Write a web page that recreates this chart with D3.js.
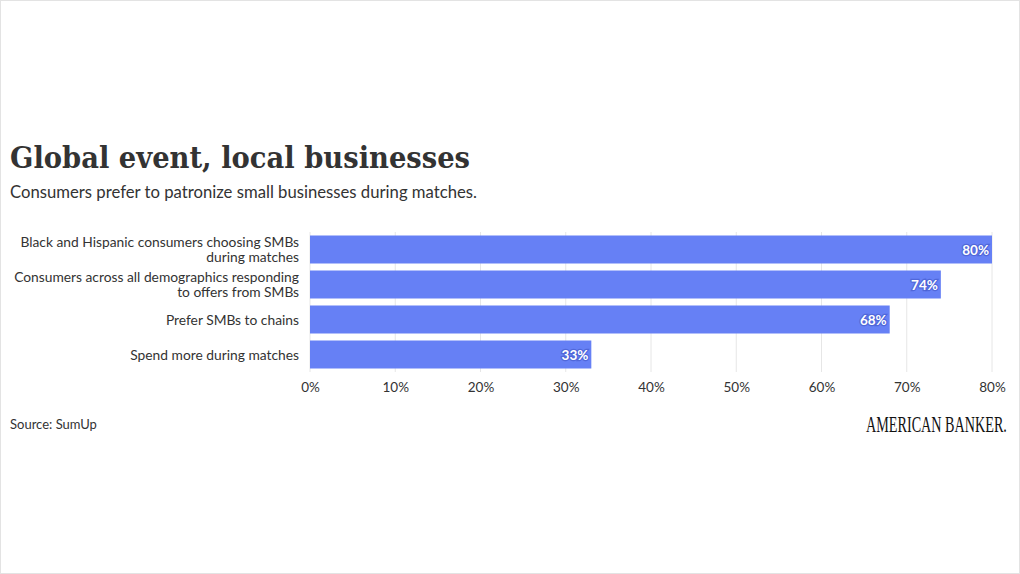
<!DOCTYPE html>
<html><head><meta charset="utf-8">
<script src="https://cdn.jsdelivr.net/npm/d3@7"></script>
<style>
body{margin:0;background:#fff;}
svg{display:block;}
</style></head>
<body>
<svg id="c" width="1020" height="574"></svg>
<script>
const categories = [
  ["Black and Hispanic consumers choosing SMBs", "during matches"],
  ["Consumers across all demographics responding", "to offers from SMBs"],
  ["Prefer SMBs to chains"],
  ["Spend more during matches"]
];
const values = [80, 74, 68, 33];
const tickValues = [0, 10, 20, 30, 40, 50, 60, 70, 80];

const svg = d3.select("#c");
svg.append("rect").attr("x",0.5).attr("y",0.5).attr("width",1019).attr("height",573)
  .attr("fill","#fff").attr("stroke","#e3e3e3");

svg.append("text").attr("x",10).attr("y",168)
  .attr("font-family","'DejaVu Serif', serif").attr("font-weight","bold")
  .attr("font-size",29).attr("fill","#333").attr("textLength",460).attr("lengthAdjust","spacingAndGlyphs")
  .text("Global event, local businesses");
svg.append("text").attr("x",10).attr("y",198)
  .attr("font-family","Lato, sans-serif").attr("font-size",16.7).attr("fill","#333")
  .text("Consumers prefer to patronize small businesses during matches.");

const x = d3.scaleLinear().domain([0,80]).range([310,992]);
const y = d3.scaleBand().domain(d3.range(values.length)).range([232,372]).paddingInner(0.2).paddingOuter(0.1);

const g = svg.append("g");
g.selectAll("line.grid").data(tickValues).join("line")
  .attr("x1",d=>x(d)).attr("x2",d=>x(d)).attr("y1",232).attr("y2",372)
  .attr("stroke","#e6e6e6").attr("stroke-width",1);

g.selectAll("rect.bar").data(values).join("rect")
  .attr("x",x(0)).attr("y",(d,i)=>y(i)).attr("width",d=>x(d)-x(0)).attr("height",y.bandwidth())
  .attr("fill","#6680f5");

g.selectAll("text.val").data(values).join("text")
  .attr("x",d=>x(d)-3).attr("y",(d,i)=>y(i)+y.bandwidth()/2+5)
  .attr("text-anchor","end").attr("font-family","Lato, sans-serif").attr("font-weight","bold")
  .attr("font-size",13.5).attr("fill","#fff").attr("stroke","#3a4fc0").attr("stroke-width",2.5)
  .attr("stroke-opacity",0.5).attr("paint-order","stroke")
  .text(d=>d+"%");

categories.forEach((lines,i)=>{
  const t = g.append("text").attr("text-anchor","end").attr("font-family","Lato, sans-serif")
    .attr("font-size",13.8).attr("fill","#333");
  const cy = y(i)+y.bandwidth()/2;
  const lh = 15;
  const start = cy - (lines.length-1)*lh/2 + 5;
  lines.forEach((l,j)=>t.append("tspan").attr("x",299).attr("y",start+j*lh).text(l));
});

const ax = svg.append("g").attr("transform","translate(0,372)")
  .call(d3.axisBottom(x).tickValues(tickValues).tickFormat(d=>d+"%").tickSize(0).tickPadding(10));
ax.select(".domain").remove();
ax.selectAll("text").attr("font-family","Lato, sans-serif").attr("font-size",13.5).attr("fill","#333");

svg.append("text").attr("x",10).attr("y",429)
  .attr("font-family","Lato, sans-serif").attr("font-size",13).attr("fill","#333").text("Source: SumUp");
const logo = svg.append("text").attr("font-family","'Liberation Serif', serif").attr("font-size",23)
  .attr("fill","#111").text("AMERICAN BANKER.");
const lw = logo.node().getComputedTextLength();
logo.attr("transform",`translate(866,432) scale(${141/lw},1)`);
</script>
</body></html>
